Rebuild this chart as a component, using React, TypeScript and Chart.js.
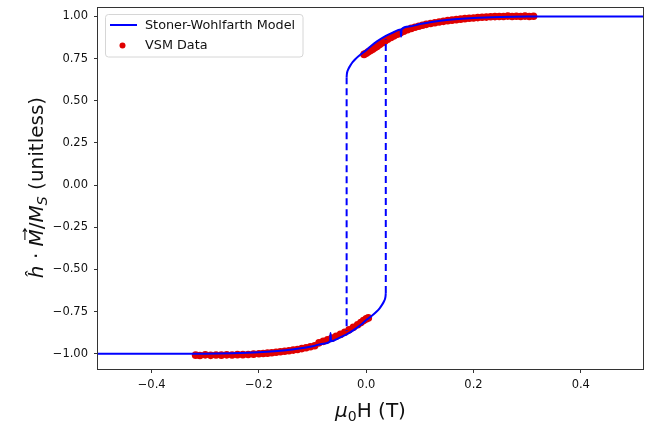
import React, { useEffect, useRef } from "react";
import { Chart, registerables } from "chart.js";
Chart.register(...registerables);

// ---- axis setup ----
const X_TICKS = [-0.4, -0.2, 0.0, 0.2, 0.4];
const Y_TICKS = [-1.0, -0.75, -0.5, -0.25, 0.0, 0.25, 0.5, 0.75, 1.0];
const X_MIN = -0.5;
const X_MAX = 0.516;
const Y_MIN = -1.09;
const Y_MAX = 1.05;

// ---- Stoner-Wohlfarth model: upper (descending-field) branch ----
const MODEL_UP_H = [-0.0365, -0.036, -0.035, -0.033, -0.03, -0.025, -0.02, -0.01, 0.0, 0.01, 0.02, 0.0365, 0.05, 0.064, 0.065, 0.066, 0.08, 0.1, 0.125, 0.15, 0.2, 0.25, 0.3, 0.4, 0.516];
const MODEL_UP_M = [0.64, 0.66, 0.675, 0.69, 0.707, 0.73, 0.748, 0.776, 0.8, 0.828, 0.852, 0.885, 0.905, 0.922, 0.88, 0.924, 0.94, 0.955, 0.969, 0.979, 0.99, 0.996, 0.999, 1.0, 1.0];

// ---- model: lower (ascending-field) branch ----
const MODEL_LO_H = [-0.5, -0.4, -0.3, -0.25, -0.2, -0.15, -0.125, -0.1, -0.08, -0.0675, -0.0665, -0.0655, -0.05, -0.0365, -0.02, -0.01, 0.0, 0.01, 0.02, 0.025, 0.03, 0.033, 0.035, 0.036, 0.0365];
const MODEL_LO_M = [-1.0, -1.0, -0.999, -0.996, -0.99, -0.979, -0.969, -0.955, -0.94, -0.927, -0.876, -0.925, -0.905, -0.885, -0.852, -0.828, -0.8, -0.776, -0.748, -0.73, -0.707, -0.69, -0.675, -0.66, -0.64];

// ---- switching jumps (dashed) ----
const SWITCH_H = [-0.0365, 0.0365];
const SWITCH_FROM_M = [0.64, -0.64];
const SWITCH_TO_M = [-0.865, 0.865];

// ---- VSM data: positive branch ----
const VSM_POS_H = [-0.004, 0.0, 0.004, 0.008, 0.012, 0.016, 0.02, 0.025, 0.03, 0.035, 0.04, 0.046, 0.052, 0.058, 0.064, 0.07, 0.077, 0.084, 0.091, 0.098, 0.105, 0.112, 0.12, 0.128, 0.136, 0.144, 0.152, 0.16, 0.168, 0.176, 0.184, 0.192, 0.2, 0.208, 0.216, 0.224, 0.232, 0.24, 0.248, 0.256, 0.264, 0.272, 0.28, 0.288, 0.296, 0.304, 0.312];
const VSM_POS_M = [0.775, 0.782, 0.79, 0.798, 0.806, 0.814, 0.822, 0.833, 0.844, 0.855, 0.865, 0.875, 0.885, 0.894, 0.903, 0.912, 0.921, 0.929, 0.936, 0.942, 0.948, 0.953, 0.958, 0.963, 0.967, 0.971, 0.975, 0.978, 0.981, 0.984, 0.987, 0.989, 0.991, 0.993, 0.995, 0.996, 0.998, 0.999, 1.0, 1.0, 1.002, 1.0, 1.001, 1.0, 1.002, 1.0, 1.001];

// ---- VSM data: negative branch ----
const VSM_NEG_H = [-0.318, -0.31, -0.3, -0.29, -0.28, -0.27, -0.26, -0.25, -0.24, -0.23, -0.22, -0.21, -0.2, -0.192, -0.184, -0.176, -0.168, -0.16, -0.152, -0.144, -0.136, -0.128, -0.12, -0.112, -0.104, -0.096, -0.088, -0.08, -0.072, -0.064, -0.056, -0.048, -0.04, -0.032, -0.024, -0.016, -0.01, -0.005, 0.0, 0.004];
const VSM_NEG_M = [-1.008, -1.01, -1.006, -1.009, -1.007, -1.008, -1.006, -1.007, -1.005, -1.005, -1.004, -1.002, -1.0, -0.998, -0.996, -0.994, -0.991, -0.988, -0.985, -0.982, -0.978, -0.974, -0.969, -0.964, -0.958, -0.952, -0.935, -0.926, -0.917, -0.907, -0.896, -0.885, -0.872, -0.858, -0.843, -0.828, -0.815, -0.803, -0.793, -0.787];

// ---- texts ----
const LEGEND_LABELS = ["Stoner-Wohlfarth Model", "VSM Data"];
type Run = { t: string; it?: boolean; sub?: boolean; arrow?: boolean };
const Y_TITLE: Run[] = [
  { t: "ĥ", it: true },
  { t: " · " },
  { t: "M", it: true, arrow: true },
  { t: "/" },
  { t: "M", it: true },
  { t: "S", it: true, sub: true },
  { t: " (unitless)" },
];
const X_TITLE: Run[] = [
  { t: "μ", it: true },
  { t: "0", sub: true },
  { t: "H (T)" },
];

const BLUE = "#0000ff";
const RED = "#e00000";
const FONT = '"DejaVu Sans"';

const fmt = (v: number, d: number) => {
  const s = Math.abs(v).toFixed(d);
  return v < -1e-9 ? "\u2212" + s : s;
};

function drawRuns(ctx: CanvasRenderingContext2D, runs: Run[], size: number) {
  const fontOf = (r: Run) => `${r.it ? "italic " : ""}${r.sub ? size * 0.7 : size}px ${FONT}`;
  const widths = runs.map((r) => {
    ctx.font = fontOf(r);
    return ctx.measureText(r.t).width;
  });
  const total = widths.reduce((a, b) => a + b, 0);
  let x = -total / 2;
  ctx.textBaseline = "alphabetic";
  ctx.textAlign = "left";
  runs.forEach((r, i) => {
    ctx.font = fontOf(r);
    ctx.fillText(r.t, x, r.sub ? size * 0.22 : 0);
    if (r.arrow) {
      const y = -size * 0.73 - 3.5;
      const x1 = x + size * 0.32;
      const x2 = x + widths[i] + size * 0.02;
      ctx.beginPath();
      ctx.lineWidth = 1.1;
      ctx.moveTo(x1, y);
      ctx.lineTo(x2, y);
      ctx.moveTo(x2 - 3, y - 2);
      ctx.lineTo(x2, y);
      ctx.lineTo(x2 - 3, y + 2);
      ctx.stroke();
    }
    x += widths[i];
  });
}

const decorPlugin = {
  id: "decor",
  afterDraw(chart: any) {
    const ctx: CanvasRenderingContext2D = chart.ctx;
    const a = chart.chartArea;
    ctx.save();
    // spines
    ctx.strokeStyle = "#333";
    ctx.lineWidth = 1;
    ctx.strokeRect(Math.round(a.left) - 0.5, Math.round(a.top) - 0.5, Math.round(a.right - a.left) + 1, Math.round(a.bottom - a.top) + 1);

    // legend
    const lx = 105.5, ly = 14.5, lw = 197.5, lh = 42.5, rr = 3;
    ctx.beginPath();
    ctx.moveTo(lx + rr, ly);
    ctx.lineTo(lx + lw - rr, ly);
    ctx.arcTo(lx + lw, ly, lx + lw, ly + rr, rr);
    ctx.lineTo(lx + lw, ly + lh - rr);
    ctx.arcTo(lx + lw, ly + lh, lx + lw - rr, ly + lh, rr);
    ctx.lineTo(lx + rr, ly + lh);
    ctx.arcTo(lx, ly + lh, lx, ly + lh - rr, rr);
    ctx.lineTo(lx, ly + rr);
    ctx.arcTo(lx, ly, lx + rr, ly, rr);
    ctx.closePath();
    ctx.fillStyle = "rgba(255,255,255,0.8)";
    ctx.fill();
    ctx.strokeStyle = "#d6d6d6";
    ctx.lineWidth = 1;
    ctx.stroke();

    ctx.strokeStyle = BLUE;
    ctx.lineWidth = 2;
    ctx.beginPath();
    ctx.moveTo(110, 25);
    ctx.lineTo(137, 25);
    ctx.stroke();
    ctx.fillStyle = RED;
    ctx.beginPath();
    ctx.arc(122.5, 45.5, 3, 0, Math.PI * 2);
    ctx.fill();

    ctx.fillStyle = "#111";
    ctx.font = `12.8px ${FONT}`;
    ctx.textBaseline = "middle";
    ctx.textAlign = "left";
    ctx.fillText(LEGEND_LABELS[0], 145, 25.5);
    ctx.fillText(LEGEND_LABELS[1], 145, 45.5);

    // axis titles
    ctx.fillStyle = "#111";
    ctx.strokeStyle = "#111";
    ctx.save();
    ctx.translate((a.left + a.right) / 2, 417);
    drawRuns(ctx, X_TITLE, 20);
    ctx.restore();
    ctx.save();
    ctx.translate(43, 187.5);
    ctx.rotate(-Math.PI / 2);
    drawRuns(ctx, Y_TITLE, 20);
    ctx.restore();

    ctx.restore();
  },
};

const pts = (hs: number[], ms: number[]) => hs.map((h, i) => ({ x: h, y: ms[i] }));

export default function App() {
  const ref = useRef<HTMLCanvasElement>(null);
  useEffect(() => {
    const canvas = ref.current!;
    const lineBase = {
      showLine: true,
      borderColor: BLUE,
      backgroundColor: BLUE,
      borderWidth: 2,
      pointRadius: 0,
      pointHoverRadius: 0,
      order: 1,
    };
    const chart = new Chart(canvas, {
      type: "scatter",
      data: {
        datasets: [
          { ...lineBase, label: LEGEND_LABELS[0], data: pts(MODEL_UP_H, MODEL_UP_M), cubicInterpolationMode: "monotone" },
          { ...lineBase, label: "lower", data: pts(MODEL_LO_H, MODEL_LO_M), cubicInterpolationMode: "monotone" },
          { ...lineBase, label: "jump1", data: [{ x: SWITCH_H[0], y: SWITCH_FROM_M[0] }, { x: SWITCH_H[0], y: SWITCH_TO_M[0] }], borderDash: [7, 4] },
          { ...lineBase, label: "jump2", data: [{ x: SWITCH_H[1], y: SWITCH_FROM_M[1] }, { x: SWITCH_H[1], y: SWITCH_TO_M[1] }], borderDash: [7, 4] },
          { label: LEGEND_LABELS[1], data: pts(VSM_POS_H, VSM_POS_M), pointRadius: 3.8, borderWidth: 0, backgroundColor: RED, pointBorderWidth: 0, order: 2 },
          { label: "vsm2", data: pts(VSM_NEG_H, VSM_NEG_M), pointRadius: 3.8, borderWidth: 0, backgroundColor: RED, pointBorderWidth: 0, order: 2 },
        ] as any,
      },
      options: {
        responsive: false,
        devicePixelRatio: 1,
        animation: false,
        layout: { padding: { left: 0, right: 4, top: 8, bottom: 0 } },
        plugins: { legend: { display: false }, tooltip: { enabled: false } },
        scales: {
          x: {
            type: "linear",
            position: "bottom",
            min: X_MIN,
            max: X_MAX,
            afterBuildTicks: (s: any) => {
              s.ticks = X_TICKS.map((v) => ({ value: v }));
            },
            afterFit: (s: any) => {
              s.height = 52;
              s.paddingLeft = 0;
              s.paddingRight = 0;
            },
            ticks: {
              callback: (v: any) => fmt(Number(v), 1),
              font: { family: "DejaVu Sans", size: 11.5 },
              color: "#111",
              padding: 5,
              maxRotation: 0,
              autoSkip: false,
            },
            grid: { display: true, drawOnChartArea: false, drawTicks: true, tickLength: 4, color: "#333", lineWidth: 1 },
            border: { display: false },
          },
          y: {
            type: "linear",
            position: "left",
            min: Y_MIN,
            max: Y_MAX,
            afterBuildTicks: (s: any) => {
              s.ticks = Y_TICKS.map((v) => ({ value: v }));
            },
            afterFit: (s: any) => {
              s.width = 98;
              s.paddingTop = 0;
              s.paddingBottom = 0;
            },
            ticks: {
              callback: (v: any) => fmt(Number(v), 2),
              font: { family: "DejaVu Sans", size: 11.5 },
              color: "#111",
              padding: 6,
              autoSkip: false,
            },
            grid: { display: true, drawOnChartArea: false, drawTicks: true, tickLength: 4, color: "#333", lineWidth: 1 },
            border: { display: false },
          },
        },
      } as any,
      plugins: [decorPlugin],
    });
    return () => chart.destroy();
  }, []);
  return (
    <div style={{ position: "absolute", left: 0, top: 0, width: 647, height: 421, background: "#fff" }}>
      <canvas ref={ref} width={647} height={421} style={{ display: "block", width: 647, height: 421 }} />
    </div>
  );
}
